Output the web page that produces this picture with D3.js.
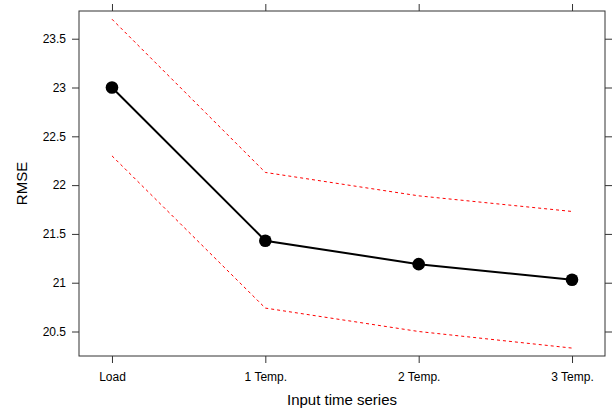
<!DOCTYPE html>
<html>
<head>
<meta charset="utf-8">
<script src="https://cdn.jsdelivr.net/npm/d3@7"></script>
<style>
body { margin: 0; background: #fff; }
svg text { font-family: "Liberation Sans", Arial, sans-serif; fill: #000; }
</style>
</head>
<body>
<svg width="613" height="411"></svg>
<script>
const svg = d3.select('svg');

const categories = ['Load', '1 Temp.', '2 Temp.', '3 Temp.'];
const rmse = [23.0, 21.43, 21.19, 21.03];
const upper = [23.70, 22.13, 21.89, 21.73];
const lower = [22.30, 20.74, 20.50, 20.33];
const yTicks = [20.5, 21, 21.5, 22, 22.5, 23, 23.5];

const panel = {left: 79, right: 605, top: 11, bottom: 356};

const x = d3.scalePoint()
    .domain(categories)
    .range([panel.left, panel.right])
    .padding(0.215);
const y = d3.scaleLinear()
    .domain([20.249, 23.784])
    .range([panel.bottom, panel.top]);

const axisColor = '#333';
const styleAxis = g => {
    g.select('.domain').remove();
    g.selectAll('.tick line').attr('stroke', axisColor);
    g.selectAll('.tick text').style('font-size', '12px');
};

svg.append('g')
    .attr('transform', 'translate(' + panel.left + ',0)')
    .call(d3.axisLeft(y).tickValues(yTicks).tickSize(7).tickPadding(6).tickFormat(d3.format('')))
    .call(styleAxis);
svg.append('g')
    .attr('transform', 'translate(' + panel.right + ',0)')
    .call(d3.axisRight(y).tickValues(yTicks).tickSize(7).tickFormat(''))
    .call(styleAxis);
svg.append('g')
    .attr('transform', 'translate(0,' + panel.bottom + ')')
    .call(d3.axisBottom(x).tickSize(7).tickPadding(9))
    .call(styleAxis);
svg.append('g')
    .attr('transform', 'translate(0,' + panel.top + ')')
    .call(d3.axisTop(x).tickSize(7).tickFormat(''))
    .call(styleAxis);

svg.append('rect')
    .attr('x', panel.left)
    .attr('y', panel.top)
    .attr('width', panel.right - panel.left)
    .attr('height', panel.bottom - panel.top)
    .attr('fill', 'none')
    .attr('stroke', axisColor)
    .attr('stroke-width', 1);

const line = d3.line()
    .x((d, i) => x(categories[i]))
    .y(d => y(d));

[upper, lower].forEach(band => {
    svg.append('path')
        .datum(band)
        .attr('d', line)
        .attr('fill', 'none')
        .attr('stroke', '#ff0000')
        .attr('stroke-width', 1)
        .attr('stroke-dasharray', '3,3');
});

svg.append('path')
    .datum(rmse)
    .attr('d', line)
    .attr('fill', 'none')
    .attr('stroke', '#000')
    .attr('stroke-width', 2);

svg.selectAll('.pt')
    .data(rmse)
    .enter().append('circle')
    .attr('class', 'pt')
    .attr('cx', (d, i) => x(categories[i]))
    .attr('cy', d => y(d))
    .attr('r', 6.3)
    .attr('fill', '#000');

svg.append('text')
    .attr('x', (panel.left + panel.right) / 2)
    .attr('y', 405)
    .attr('text-anchor', 'middle')
    .style('font-size', '15px')
    .text('Input time series');

svg.append('text')
    .attr('transform', 'translate(27,' + (panel.top + panel.bottom) / 2 + ') rotate(-90)')
    .attr('text-anchor', 'middle')
    .style('font-size', '15px')
    .text('RMSE');
</script>
</body>
</html>
